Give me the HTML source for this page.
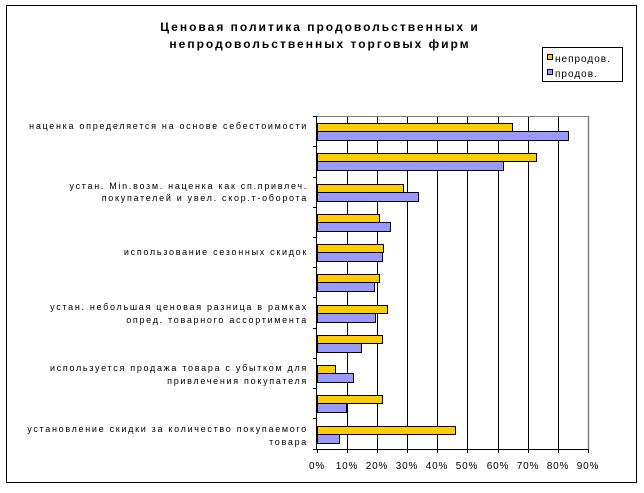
<!DOCTYPE html>
<html><head><meta charset="utf-8"><style>
body{margin:0;background:#fff;}
svg text{font-family:"Liberation Sans",sans-serif;}
</style></head><body>
<svg width="644" height="488" xmlns="http://www.w3.org/2000/svg">
<rect x="6.5" y="5.5" width="630" height="477" fill="#fff" stroke="#000" stroke-width="1"/>
<text x="320" y="31" text-anchor="middle" font-size="12" font-weight="bold" letter-spacing="2">Ценовая политика продовольственных и</text>
<text x="320" y="48" text-anchor="middle" font-size="12" font-weight="bold" letter-spacing="2">непродовольственных торговых фирм</text>
<rect x="542.5" y="47.5" width="80" height="34" fill="#fff" stroke="#000"/>
<rect x="547.5" y="54.5" width="5" height="5" fill="#FFCC00" stroke="#000"/>
<text x="555" y="62" font-size="10" letter-spacing="1">непродов.</text>
<rect x="547.5" y="69.5" width="5" height="5" fill="#9999FF" stroke="#000"/>
<text x="555" y="77" font-size="10" letter-spacing="1">продов.</text>
<g stroke="#000" stroke-width="1">
<line x1="347.5" y1="116" x2="347.5" y2="449"/><line x1="377.5" y1="116" x2="377.5" y2="449"/>
<line x1="407.5" y1="116" x2="407.5" y2="449"/><line x1="437.5" y1="116" x2="437.5" y2="449"/>
<line x1="467.5" y1="116" x2="467.5" y2="449"/><line x1="498.5" y1="116" x2="498.5" y2="449"/>
<line x1="528.5" y1="116" x2="528.5" y2="449"/><line x1="558.5" y1="116" x2="558.5" y2="449"/>
</g>
<line x1="317" y1="116.5" x2="588" y2="116.5" stroke="#808080"/>
<line x1="588.5" y1="116" x2="588.5" y2="449" stroke="#808080" stroke-width="1.5"/>
<line x1="317" y1="449.5" x2="589" y2="449.5" stroke="#000"/>
<line x1="316.5" y1="116" x2="316.5" y2="450" stroke="#000"/>
<g stroke="#000">
<line x1="313" y1="116.5" x2="317" y2="116.5"/><line x1="313" y1="146.5" x2="317" y2="146.5"/>
<line x1="313" y1="177.5" x2="317" y2="177.5"/><line x1="313" y1="207.5" x2="317" y2="207.5"/>
<line x1="313" y1="237.5" x2="317" y2="237.5"/><line x1="313" y1="267.5" x2="317" y2="267.5"/>
<line x1="313" y1="297.5" x2="317" y2="297.5"/><line x1="313" y1="328.5" x2="317" y2="328.5"/>
<line x1="313" y1="358.5" x2="317" y2="358.5"/><line x1="313" y1="388.5" x2="317" y2="388.5"/>
<line x1="313" y1="418.5" x2="317" y2="418.5"/><line x1="313" y1="449.5" x2="317" y2="449.5"/>
<line x1="317.5" y1="449" x2="317.5" y2="453"/><line x1="347.5" y1="449" x2="347.5" y2="453"/>
<line x1="377.5" y1="449" x2="377.5" y2="453"/><line x1="407.5" y1="449" x2="407.5" y2="453"/>
<line x1="437.5" y1="449" x2="437.5" y2="453"/><line x1="467.5" y1="449" x2="467.5" y2="453"/>
<line x1="498.5" y1="449" x2="498.5" y2="453"/><line x1="528.5" y1="449" x2="528.5" y2="453"/>
<line x1="558.5" y1="449" x2="558.5" y2="453"/><line x1="588.5" y1="449" x2="588.5" y2="453"/>
</g>
<g font-size="10" text-anchor="middle" letter-spacing="0.8">
<text x="317" y="469">0%</text><text x="347" y="469">10%</text><text x="377" y="469">20%</text>
<text x="407" y="469">30%</text><text x="437" y="469">40%</text><text x="467" y="469">50%</text>
<text x="498" y="469">60%</text><text x="528" y="469">70%</text><text x="558" y="469">80%</text>
<text x="588" y="469">90%</text>
</g>
<g stroke="#000" stroke-width="1">
<rect x="317.5" y="123.5" width="195" height="8" fill="#FFCC00"/><rect x="317.5" y="131.5" width="251" height="9" fill="#9999FF"/>
<rect x="317.5" y="153.5" width="219" height="8" fill="#FFCC00"/><rect x="317.5" y="161.5" width="186" height="9" fill="#9999FF"/>
<rect x="317.5" y="184.5" width="86" height="8" fill="#FFCC00"/><rect x="317.5" y="192.5" width="101" height="9" fill="#9999FF"/>
<rect x="317.5" y="214.5" width="62" height="8" fill="#FFCC00"/><rect x="317.5" y="222.5" width="73" height="9" fill="#9999FF"/>
<rect x="317.5" y="244.5" width="66" height="8" fill="#FFCC00"/><rect x="317.5" y="252.5" width="65" height="9" fill="#9999FF"/>
<rect x="317.5" y="274.5" width="62" height="8" fill="#FFCC00"/><rect x="317.5" y="282.5" width="57" height="9" fill="#9999FF"/>
<rect x="317.5" y="305.5" width="70" height="8" fill="#FFCC00"/><rect x="317.5" y="313.5" width="58" height="9" fill="#9999FF"/>
<rect x="317.5" y="335.5" width="65" height="8" fill="#FFCC00"/><rect x="317.5" y="343.5" width="44" height="9" fill="#9999FF"/>
<rect x="317.5" y="365.5" width="18" height="8" fill="#FFCC00"/><rect x="317.5" y="373.5" width="36" height="9" fill="#9999FF"/>
<rect x="317.5" y="395.5" width="65" height="8" fill="#FFCC00"/><rect x="317.5" y="403.5" width="29" height="9" fill="#9999FF"/>
<rect x="317.5" y="426.5" width="138" height="8" fill="#FFCC00"/><rect x="317.5" y="434.5" width="22" height="9" fill="#9999FF"/>
</g>
<g font-size="9" text-anchor="end" letter-spacing="1.7">
<text x="308" y="129">наценка определяется на основе себестоимости</text>
<text x="308" y="189">устан. Min.возм. наценка как сп.привлеч.</text>
<text x="308" y="201">покупателей и увел. скор.т-оборота</text>
<text x="308" y="255">использование сезонных скидок</text>
<text x="308" y="310">устан. небольшая ценовая разница в рамках</text>
<text x="308" y="323">опред. товарного ассортимента</text>
<text x="308" y="371">используется продажа товара с убытком для</text>
<text x="308" y="384">привлечения покупателя</text>
<text x="308" y="432">установление скидки за количество покупаемого</text>
<text x="308" y="445">товара</text>
</g>
</svg>
</body></html>
